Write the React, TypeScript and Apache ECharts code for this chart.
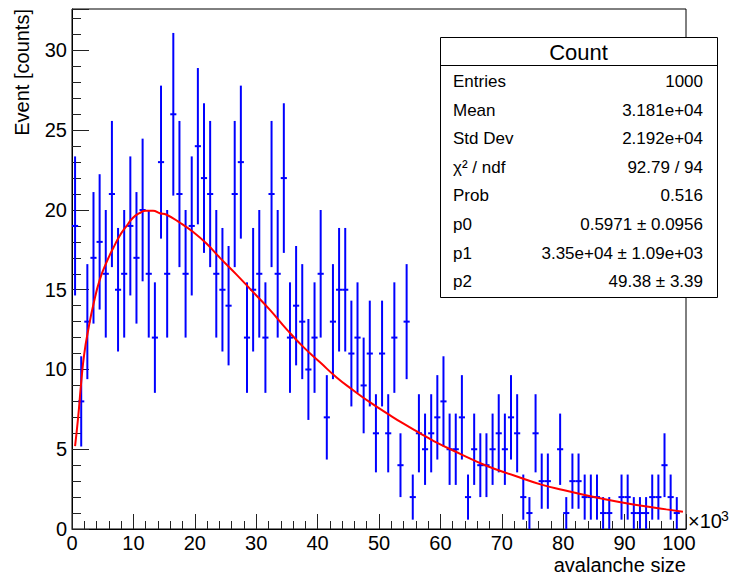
import { useEffect, useRef } from "react";
import * as echarts from "echarts";

// Histogram contents: 100 bins of width 1 (x10^3) from 0 to 100
const binCounts = [
  19, 8, 13, 17, 18, 16, 21, 15, 16, 19,
  17, 20, 16, 12, 23, 16, 26, 21, 16, 19,
  24, 22, 21, 16, 15, 14, 21, 23, 12, 15,
  16, 12, 21, 16, 22, 12, 14, 13, 10, 12,
  16, 7, 13, 15, 15, 11, 12, 9, 11, 6,
  11, 6, 12, 4, 13, 2, 6, 5, 6, 7,
  8, 5, 5, 7, 2, 5, 4, 4, 5, 6,
  5, 7, 6, 2, 1, 6, 3, 3, 0, 5,
  1, 3, 3, 2, 2, 2, 1, 1, 0, 2,
  2, 1, 1, 1, 2, 2, 4, 2, 1, 0,
];

// Fitted curve, sampled along x (x10^3)
const curveX = [
  0.5, 1, 1.5, 2, 2.7, 3.5, 4.5, 5.6, 6.7, 7.8, 8.9, 9.9, 11, 12, 13.2, 14.3,
  15.4, 17.6, 19.8, 21.9, 24.1, 26.8, 29.5, 32.2, 35, 37.7, 40.4, 43.1, 45.8,
  48.5, 51.3, 54, 56.7, 59, 63.3, 67.6, 72, 76.3, 80, 87, 92.5, 96.8, 99.5,
];
const curveY = [
  5.2, 7.0, 9.2, 11.0, 12.6, 14.1, 15.6, 16.7, 17.6, 18.4, 19.0, 19.5, 19.8,
  19.95, 19.95, 19.8, 19.7, 19.2, 18.6, 17.9, 17.0, 15.95, 14.85, 13.75, 12.5,
  11.4, 10.45, 9.5, 8.7, 7.95, 7.25, 6.6, 6.0, 5.5, 4.7, 3.95, 3.35, 2.8, 2.45,
  1.85, 1.48, 1.23, 1.08,
];

const statsTitle = "Count";
const statsLabels = ["Entries", "Mean", "Std Dev", "χ² / ndf", "Prob", "p0", "p1", "p2"];
const statsValues = [
  "1000",
  "3.181e+04",
  "2.192e+04",
  "92.79 / 94",
  "0.516",
  "0.5971 ± 0.0956",
  "3.35e+04 ± 1.09e+03",
  "49.38 ± 3.39",
];

const xTitle = "avalanche size";
const yTitle = "Event [counts]";

const FONT = "'Liberation Sans', Arial, Helvetica, sans-serif";

export default function App() {
  const ref = useRef<HTMLDivElement>(null);

  useEffect(() => {
    if (!ref.current) return;
    const chart = echarts.init(ref.current, null, { renderer: "svg" });

    const bins = binCounts
      .map((c, i) => [i + 0.5, c])
      .filter((d) => d[1] > 0);
    const curve = curveX.map((x, i) => [x, curveY[i]]);

    const statsChildren: any[] = [
      {
        type: "rect",
        shape: { x: 440.5, y: 37.5, width: 277, height: 260 },
        style: { fill: "#fff", stroke: "#000", lineWidth: 1 },
      },
      {
        type: "line",
        shape: { x1: 440.5, y1: 65.5, x2: 717.5, y2: 65.5 },
        style: { stroke: "#000", lineWidth: 1 },
      },
      {
        type: "text",
        x: 578.5,
        y: 52,
        style: {
          text: statsTitle,
          fontSize: 22,
          fontFamily: FONT,
          fill: "#000",
          align: "center",
          verticalAlign: "middle",
        },
      },
    ];
    statsLabels.forEach((label, i) => {
      const y = 81.5 + i * 28.6;
      statsChildren.push({
        type: "text",
        x: 453,
        y,
        style: {
          text: label,
          fontSize: 17,
          fontFamily: FONT,
          fill: "#000",
          align: "left",
          verticalAlign: "middle",
        },
      });
      statsChildren.push({
        type: "text",
        x: 703,
        y,
        style: {
          text: statsValues[i],
          fontSize: 17,
          fontFamily: FONT,
          fill: "#000",
          align: "right",
          verticalAlign: "middle",
        },
      });
    });

    const option: any = {
      animation: false,
      backgroundColor: "#fff",
      textStyle: { fontFamily: FONT },
      grid: {
        left: 72,
        right: 46,
        top: 9,
        bottom: 51,
        show: true,
        borderColor: "#000",
        borderWidth: 1,
        backgroundColor: "transparent",
        containLabel: false,
        outerBoundsMode: "none",
      },
      xAxis: [
        {
          type: "value",
          min: 0,
          max: 100,
          interval: 10,
          position: "bottom",
          axisLine: { show: true, onZero: false, lineStyle: { color: "#000", width: 1 } },
          axisTick: { show: true, inside: true, length: 15, lineStyle: { color: "#222", width: 1 } },
          minorTick: { show: true, splitNumber: 5, length: 8, lineStyle: { color: "#222", width: 1 } },
          splitLine: { show: false },
          axisLabel: {
            show: true,
            margin: 4,
            fontSize: 20,
            lineHeight: 20,
            fontFamily: FONT,
            color: "#000",
            formatter: (v: number) => (v === 100 ? "{last|100}" : String(v)),
            rich: {
              last: {
                fontSize: 20,
                lineHeight: 20,
                fontFamily: FONT,
                color: "#000",
                padding: [0, 14, 0, 0],
              },
            },
          },
        },
      ],
      yAxis: [
        {
          type: "value",
          min: 0,
          max: 32.6,
          interval: 1,
          position: "left",
          axisLine: { show: true, onZero: false, lineStyle: { color: "#000", width: 1 } },
          axisTick: { show: true, inside: true, length: 9, lineStyle: { color: "#222", width: 1 } },
          splitLine: { show: false },
          axisLabel: {
            show: true,
            margin: 5,
            fontSize: 20,
            fontFamily: FONT,
            color: "#000",
            showMaxLabel: false,
            formatter: (v: number) => (Math.abs(v % 5) < 1e-9 ? String(v) : ""),
          },
        },
        {
          type: "value",
          min: 0,
          max: 32.6,
          interval: 5,
          position: "left",
          offset: 0,
          axisLine: { show: false },
          axisTick: { show: true, inside: true, length: 17, lineStyle: { color: "#222", width: 1 } },
          splitLine: { show: false },
          axisLabel: { show: false },
        },
      ],
      series: [
        {
          type: "custom",
          xAxisIndex: 0,
          yAxisIndex: 0,
          data: bins,
          encode: { x: 0, y: 1 },
          z: 2,
          renderItem: (_params: any, api: any) => {
            const x = api.value(0) as number;
            const v = api.value(1) as number;
            const err = Math.sqrt(v);
            const top = api.coord([x, v + err]);
            const bot = api.coord([x, v - err]);
            const left = api.coord([x - 0.5, v]);
            const right = api.coord([x + 0.5, v]);
            const style = { stroke: "#0000ff", lineWidth: 2 };
            return {
              type: "group",
              children: [
                { type: "line", shape: { x1: top[0], y1: top[1], x2: bot[0], y2: bot[1] }, style },
                { type: "line", shape: { x1: left[0], y1: left[1], x2: right[0], y2: right[1] }, style },
              ],
            };
          },
        },
        {
          type: "line",
          xAxisIndex: 0,
          yAxisIndex: 0,
          data: curve,
          smooth: 0.5,
          symbol: "none",
          z: 3,
          lineStyle: { color: "#ff0000", width: 2 },
        },
      ],
      graphic: [
        {
          type: "text",
          x: 22,
          y: 9,
          rotation: Math.PI / 2,
          style: {
            text: yTitle,
            fontSize: 20,
            fontFamily: FONT,
            fill: "#000",
            align: "right",
            verticalAlign: "middle",
          },
        },
        {
          type: "text",
          x: 686,
          y: 565,
          style: {
            text: xTitle,
            fontSize: 20,
            fontFamily: FONT,
            fill: "#000",
            align: "right",
            verticalAlign: "middle",
          },
        },
        {
          type: "text",
          x: 688,
          y: 531,
          style: {
            text: "×10",
            fontSize: 20,
            fontFamily: FONT,
            fill: "#000",
            align: "left",
            verticalAlign: "bottom",
          },
        },
        {
          type: "text",
          x: 721,
          y: 523,
          style: {
            text: "3",
            fontSize: 14,
            fontFamily: FONT,
            fill: "#000",
            align: "left",
            verticalAlign: "bottom",
          },
        },
        {
          type: "group",
          z: 10,
          children: statsChildren,
        },
      ],
    };

    chart.setOption(option);
    return () => chart.dispose();
  }, []);

  return (
    <div
      ref={ref}
      style={{ position: "fixed", left: 0, top: 0, width: 732, height: 580, background: "#fff" }}
    />
  );
}
